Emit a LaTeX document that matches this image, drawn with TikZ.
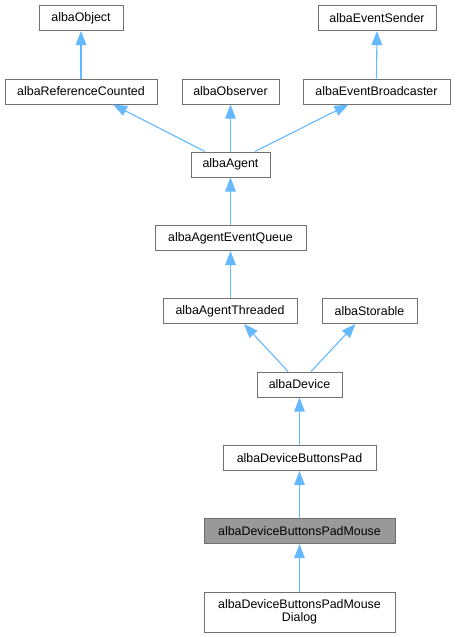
\documentclass[tikz,border=0pt]{standalone}
\usepackage{fontspec}
\setmainfont{Liberation Sans}
\usetikzlibrary{arrows.meta}
\definecolor{edgeblue}{HTML}{63B8FF}
\definecolor{boxborder}{HTML}{707070}
\definecolor{curfill}{HTML}{999999}
\tikzset{
  cls/.style={draw=boxborder, line width=1pt, fill=white, minimum height=25pt, inner sep=0pt, align=center, font=\fontsize{12.4}{14}\selectfont},
  cur/.style={cls, fill=curfill},
  inh/.style={draw=edgeblue, line width=1.1pt, -{Triangle[length=14pt,width=10.5pt]}}
}
\begin{document}
\begin{tikzpicture}[x=1pt,y=-1pt]
\useasboundingbox (0,0) rectangle (457,637);
\node[cls, minimum width=84pt] (obj) at (81,18) {albaObject};
\node[cls, minimum width=152pt] (rc) at (81,91.5) {albaReferenceCounted};
\node[cls, minimum width=97pt] (obs) at (230.5,91.5) {albaObserver};
\node[cls, minimum width=147pt] (eb) at (376.5,91.5) {albaEventBroadcaster};
\node[cls, minimum width=118pt] (es) at (377,18) {albaEventSender};
\node[cls, minimum width=79pt] (ag) at (230.5,164.5) {albaAgent};
\node[cls, minimum width=151pt] (aeq) at (230.5,238) {albaAgentEventQueue};
\node[cls, minimum width=134pt] (at) at (230,311) {albaAgentThreaded};
\node[cls, minimum width=95pt] (st) at (369.5,311) {albaStorable};
\node[cls, minimum width=85pt] (dev) at (299.5,384.5) {albaDevice};
\node[cls, minimum width=153pt] (bp) at (299.5,458) {albaDeviceButtonsPad};
\node[cur, minimum width=191pt] (bpm) at (299.5,531) {albaDeviceButtonsPadMouse};
\node[cls, minimum width=191pt, minimum height=40pt] (dlg) at (299.5,612) {albaDeviceButtonsPadMouse\\[-1pt]Dialog};

\draw[inh] (rc.north) -- (obj.south);
\draw[inh] (eb.north) -- (es.south);
\draw[inh] ([xshift=-25.5pt]ag.north) -- ([xshift=32pt]rc.south);
\draw[inh] (ag.north) -- (obs.south);
\draw[inh] ([xshift=24.5pt]ag.north) -- ([xshift=-28pt]eb.south);
\draw[inh] (aeq.north) -- (ag.south);
\draw[inh] ([xshift=0.5pt]at.north) -- (aeq.south);
\draw[inh] ([xshift=-11.5pt]dev.north) -- ([xshift=14pt]at.south);
\draw[inh] ([xshift=11.5pt]dev.north) -- ([xshift=-14pt]st.south);
\draw[inh] (bp.north) -- (dev.south);
\draw[inh] (bpm.north) -- (bp.south);
\draw[inh] (dlg.north) -- (bpm.south);
\end{tikzpicture}
\end{document}
